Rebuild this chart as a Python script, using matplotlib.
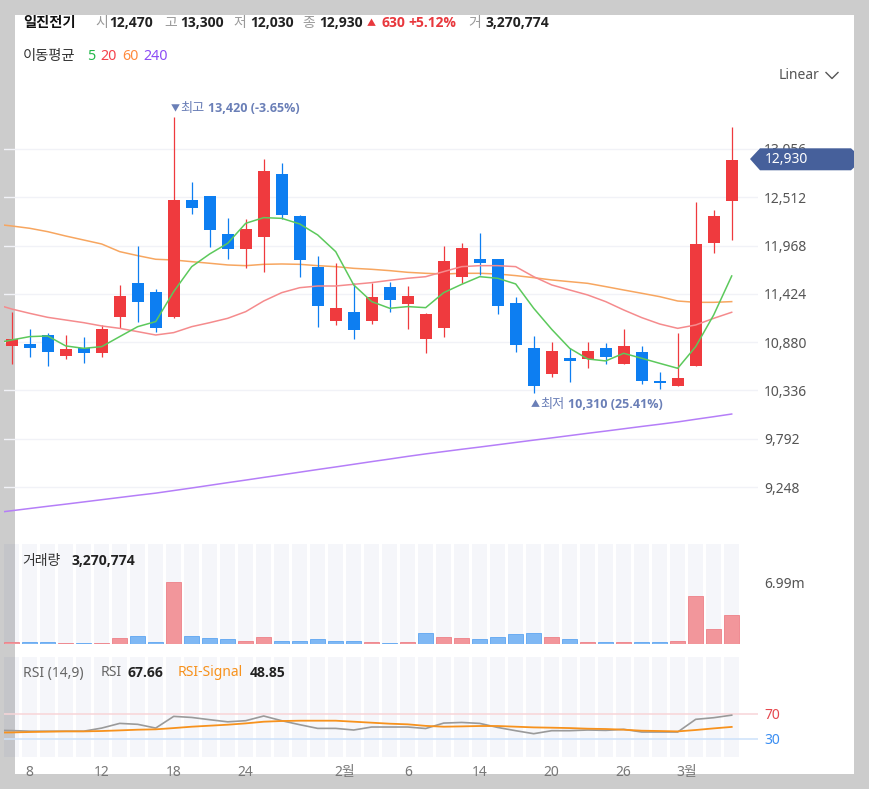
import matplotlib
matplotlib.use('Agg')
import matplotlib.pyplot as plt
from matplotlib import font_manager as fm
from matplotlib.patches import Rectangle, Polygon
from matplotlib.transforms import blended_transform_factory
import numpy as np

plt.rcParams['font.family'] = ['Noto Sans', 'Noto Sans CJK KR', 'DejaVu Sans']

# ---------------- data ----------------
dates = ['1/5', '1/8', '1/9', '1/10', '1/11', '1/12', '1/15', '1/16', '1/17', '1/18',
         '1/19', '1/22', '1/23', '1/24', '1/25', '1/26', '1/29', '1/30', '1/31', '2/1',
         '2/2', '2/5', '2/6', '2/7', '2/8', '2/13', '2/14', '2/15', '2/16', '2/19',
         '2/20', '2/21', '2/22', '2/23', '2/26', '2/27', '2/28', '2/29', '3/4', '3/5', '3/6']

opens = [10841, 10856, 10958, 10729, 10811, 10755, 11168, 11547, 11442, 11168,
         12478, 12531, 12095, 11926, 12069, 12771, 12305, 11724, 11119, 11217,
         11123, 11498, 11307, 10913, 11036, 11618, 11814, 11814, 11318, 10811,
         10518, 10699, 10687, 10811, 10631, 10766, 10443, 10391, 10616, 11994, 12470]
highs = [11220, 11025, 10980, 10961, 10935, 11074, 11524, 11964, 11476, 13420,
         12688, 12531, 12275, 12268, 12940, 12895, 12313, 11851, 11769, 11551,
         11543, 11562, 11513, 11205, 11964, 11994, 12114, 11814, 11393, 10950,
         10879, 10811, 10879, 10868, 11029, 10841, 10548, 10980, 12463, 12369, 13300]
lows = [10631, 10717, 10612, 10691, 10642, 10710, 11044, 11112, 10999, 11149,
        12320, 11956, 11814, 11712, 11675, 12264, 11618, 11055, 11074, 10913,
        11085, 11217, 11025, 10762, 10943, 11543, 11637, 11194, 10774, 10310,
        10485, 10436, 10586, 10635, 10631, 10410, 10353, 10391, 10616, 11881, 12030]
closes = [10913, 10811, 10774, 10800, 10755, 11029, 11404, 11337, 11036, 12482,
          12395, 12144, 11926, 12151, 12812, 12313, 11806, 11292, 11262, 11018,
          11386, 11356, 11401, 11194, 11799, 11937, 11768, 11292, 10849, 10391,
          10785, 10669, 10785, 10717, 10841, 10447, 10417, 10473, 11983, 12300, 12930]

# moving averages, first value is the session before the first candle
ma5 = [10864, 10905, 10943, 10950, 10838, 10811, 10830, 10943, 11055, 11112, 11450,
       11731, 11874, 11994, 12219, 12283, 12275, 12212, 12088, 11900, 11525, 11337,
       11262, 11281, 11269, 11438, 11532, 11618, 11600, 11536, 11262, 11025, 10811,
       10691, 10669, 10755, 10699, 10642, 10586, 10830, 11187, 11626]
ma20 = [11314, 11254, 11205, 11160, 11130, 11100, 11063, 11036, 10999, 10961, 10988,
        11055, 11100, 11149, 11224, 11344, 11438, 11494, 11513, 11513, 11532, 11551,
        11577, 11600, 11618, 11675, 11731, 11742, 11742, 11731, 11618, 11525, 11468,
        11412, 11337, 11243, 11157, 11085, 11036, 11074, 11149, 11217]
ma60 = [12212, 12189, 12163, 12125, 12076, 12031, 11986, 11900, 11855, 11814, 11806,
        11787, 11769, 11750, 11742, 11757, 11761, 11757, 11742, 11731, 11712, 11701,
        11686, 11667, 11656, 11648, 11656, 11656, 11648, 11630, 11607, 11581, 11562,
        11543, 11506, 11468, 11431, 11393, 11344, 11329, 11329, 11337]
ma240 = [8957, 8982, 9007, 9032, 9056, 9081, 9106, 9131, 9156, 9180, 9209,
         9238, 9268, 9298, 9327, 9357, 9386, 9416, 9446, 9475, 9505, 9535,
         9564, 9594, 9622, 9648, 9674, 9699, 9725, 9751, 9777, 9802, 9828,
         9854, 9879, 9905, 9931, 9956, 9982, 10012, 10041, 10071]

volume_m = [0.26, 0.26, 0.26, 0.15, 0.15, 0.15, 0.71, 0.98, 0.26, 6.99,
            0.98, 0.68, 0.56, 0.41, 0.83, 0.41, 0.41, 0.56, 0.41, 0.41,
            0.26, 0.15, 0.26, 1.24, 0.83, 0.68, 0.56, 0.83, 1.13, 1.24,
            0.83, 0.56, 0.26, 0.26, 0.26, 0.26, 0.26, 0.41, 5.45, 1.69, 3.27]
volume_up = [1, 0, 0, 1, 0, 1, 1, 0, 0, 1,
             0, 0, 0, 1, 1, 0, 0, 0, 0, 0,
             1, 0, 1, 0, 1, 1, 0, 0, 0, 0,
             1, 0, 1, 0, 1, 0, 0, 1, 1, 1, 1]

rsi = [43.5, 43, 42, 42, 42, 42, 47, 54.5, 53, 47, 65.7, 64, 60.4, 57, 58.8, 66.3,
       58.8, 52.4, 46.5, 46.5, 43.9, 48.7, 48.7, 48.7, 46.3, 55, 56, 54.5, 48, 42.8,
       38, 42.8, 42.8, 43.9, 43.3, 45, 40.7, 40.7, 40.7, 61, 63.6, 67.66]
rsi_signal = [39.8, 40, 40.7, 41.2, 41.7, 41.7, 42.3, 43.3, 44.4, 45, 47, 49.2, 50.8,
              52.4, 54.5, 57.2, 58.3, 58.8, 58.8, 58.8, 57.2, 55.6, 54, 53, 50.5,
              49.2, 49.7, 50.3, 50.3, 49.2, 48.1, 47.6, 47, 46, 45.5, 44.4, 42.8,
              42.3, 41.7, 43.9, 46.5, 48.85]
rsi_levels = [70, 30]

price_ticks = [9248, 9792, 10336, 10880, 11424, 11968, 12512, 13056]
vol_ticks = [6.99]
xtick_pos = [1, 5, 9, 13, 18.5, 22, 26, 30, 34, 37.5]
xtick_labels = ['8', '12', '18', '24', '2월', '6', '14', '20', '26', '3월']


# ---------------- fonts ----------------
def has_bold(name):
    for f in fm.fontManager.ttflist:
        if f.name == name:
            w = f.weight
            if isinstance(w, str):
                w = {'bold': 700, 'heavy': 800, 'black': 900, 'extra bold': 800,
                     'ultrabold': 800, 'demibold': 600, 'semibold': 600}.get(w.lower(), 400)
            if w >= 700:
                return True
    return False


LAT_B = next((nm for nm in ['Noto Sans', 'Open Sans', 'Roboto', 'Lato', 'Liberation Sans']
              if has_bold(nm)), 'DejaVu Sans')
CJK_B = next((nm for nm in ['Noto Sans CJK KR', 'Noto Sans CJK JP', 'Noto Sans CJK SC',
                            'Noto Sans CJK TC'] if has_bold(nm)), 'Noto Sans CJK KR')
BOLD_FAM = [LAT_B, CJK_B, 'DejaVu Sans']
HANGUL_BOLD_FAM = [CJK_B, 'Noto Sans CJK KR', 'DejaVu Sans']

# ---------------- figure ----------------
W, H, DPI = 869, 789, 100
fig = plt.figure(figsize=(W / DPI, H / DPI), dpi=DPI)
fig.patch.set_facecolor('#cccccc')


def px_axes(l, t, r, b, z):
    a = fig.add_axes([l / W, 1 - b / H, (r - l) / W, (b - t) / H], zorder=z)
    a.patch.set_alpha(0)
    return a


bg = px_axes(0, 0, W, H, -10)
bg.set_xlim(0, W)
bg.set_ylim(H, 0)
bg.axis('off')
bg.add_patch(Rectangle((15, 15), 839, 759, facecolor='white', edgecolor='none'))

n = len(closes)
x = np.arange(n)
xm = np.arange(-1, n)
XL = ((4 - 11.7) / 18, (758 - 11.7) / 18)

RED = '#ef3a3e'
BLUE = '#0d7ef1'

# ---- main price panel ----
ax = px_axes(4, 90, 758, 535, 1)
ax.set_xlim(*XL)
top_price = 13056 + (149 - 90) * 11.263
bot_price = 13056 - (535 - 149) * 11.263
ax.set_ylim(bot_price, top_price)
for s in ax.spines.values():
    s.set_visible(False)
ax.set_xticks([])
ax.set_yticks(price_ticks, [f'{v:,}' for v in price_ticks])
ax.yaxis.tick_right()
ax.tick_params(axis='y', length=0, pad=4.3, labelsize=10, labelcolor='#555555')
ax.yaxis.grid(True, color='#f1f2f7', lw=1.0)
ax.set_axisbelow(True)

o = np.array(opens)
c = np.array(closes)
cols = [RED if cc >= oo else BLUE for oo, cc in zip(o, c)]
ax.vlines(x, lows, highs, colors=cols, lw=0.9, zorder=3)
ax.bar(x, np.maximum(np.abs(c - o), 25), bottom=np.minimum(o, c), width=0.65,
       color=cols, edgecolor='none', zorder=4)

ax.plot(xm, ma240, color='#b57ef8', lw=1.1, zorder=2)
ax.plot(xm, ma60, color='#f7a660', lw=1.1, zorder=2)
ax.plot(xm, ma20, color='#f58b8d', lw=1.1, zorder=5)
ax.plot(xm, ma5, color='#5cc95c', lw=1.1, zorder=6)

# ---- volume panel ----
av = px_axes(4, 544, 758, 644.3, 1)
av.set_xlim(*XL)
av.set_ylim(0, 6.99 * 100.3 / 62)
for s in av.spines.values():
    s.set_visible(False)
av.set_xticks([])
for i in x:
    av.axvspan(i - 0.42, i + 0.42, color='#1a3399', alpha=0.045, lw=0, zorder=0)
vcols = ['#f2969b' if u else '#7fb8f4' for u in volume_up]
vedge = ['#ee8088' if u else '#5ea6f2' for u in volume_up]
av.bar(x, volume_m, width=0.86, color=vcols, edgecolor=vedge, lw=0.6, zorder=2)
av.set_yticks(vol_ticks, ['6.99m'])
av.yaxis.tick_right()
av.tick_params(axis='y', length=0, pad=4.3, labelsize=10, labelcolor='#555555')

# ---- RSI panel ----
ar = px_axes(4, 656.7, 758, 756.7, 1)
ar.set_xlim(*XL)
ar.set_ylim(30 - (756.7 - 738.7) / 0.625, 70 + (713.7 - 656.7) / 0.625)
for s in ar.spines.values():
    s.set_visible(False)
ar.set_xticks([])
for i in x:
    ar.axvspan(i - 0.42, i + 0.42, color='#1a3399', alpha=0.045, lw=0, zorder=0)
ar.axhline(rsi_levels[0], color='#f8d5d8', lw=1.1, zorder=1)
ar.axhline(rsi_levels[1], color='#cde2fb', lw=1.1, zorder=1)
ar.plot(xm, rsi, color='#9a9a9a', lw=1.2, zorder=3)
ar.plot(xm, rsi_signal, color='#f7921d', lw=1.3, zorder=3)
ar.set_yticks(rsi_levels, [str(v) for v in rsi_levels])
ar.yaxis.tick_right()
ar.tick_params(axis='y', length=0, pad=4.3, labelsize=10)
ylabs = ar.get_yticklabels()
ylabs[0].set_color('#e6474d')
ylabs[1].set_color('#3b8ef2')

# ---- overlay (texts, tag) ----
ov = px_axes(0, 0, W, H, 20)
ov.set_xlim(0, W)
ov.set_ylim(H, 0)
ov.axis('off')


def t(xp, yp, s, size=10, color='#222222', bold=False, fam=None, ha='left', va='center', **kw):
    if fam is None:
        fam = BOLD_FAM if bold else ['Noto Sans', 'Noto Sans CJK KR', 'DejaVu Sans']
    ov.text(xp, yp, s, fontsize=size, color=color, family=fam,
            fontweight='bold' if bold else 'normal', ha=ha, va=va, **kw)


GRAY = '#999999'
HY = 23
t(23, HY, '일진전기', 10.3, '#111111', True, fam=HANGUL_BOLD_FAM)
t(95, HY, '시', 10, GRAY)
t(109.5, HY, '12,470', 10, '#222222', True)
t(164.5, HY, '고', 10, GRAY)
t(180, HY, '13,300', 10, '#222222', True)
t(233, HY, '저', 10, GRAY)
t(250, HY, '12,030', 10, '#222222', True)
t(302, HY, '종', 10, GRAY)
t(319, HY, '12,930', 10, '#222222', True)
t(367, HY + 0.5, '▲', 6.5, '#e8383d')
t(381, HY, '630', 10, '#e8383d', True)
t(408.5, HY, '+5.12%', 10, '#e8383d', True)
t(468, HY, '거', 10, GRAY)
t(485, HY, '3,270,774', 10, '#222222', True)

LY = 56
t(23, LY, '이동평균', 10.3, '#333333')
t(87, LY, '5', 10.3, '#22b84a')
t(100, LY, '20', 10.3, '#f5414b')
t(122, LY, '60', 10.3, '#ff8a3d')
t(143, LY, '240', 10.3, '#8c4cf5')

t(779, 75, 'Linear', 10, '#555555')
ov.plot([826, 832, 838], [72.5, 78.5, 72.5], color='#555555', lw=1.0)

# max / min markers
AC = '#6a7fb7'
t(170.5, 108.5, '▼', 6.5, AC)
t(180, 108, '최고', 9.5, AC)
t(208, 108, '13,420 (-3.65%)', 9, AC, True)
t(530.5, 404.5, '▲', 6.5, AC)
t(540, 404, '최저', 9.5, AC)
t(568, 404, '10,310 (25.41%)', 9, AC, True)

# current price tag (drawn over the top axis label, as in the source)
ov.add_patch(Polygon([(750, 159), (760, 148.3), (851, 148.3), (854, 151), (854, 167.5),
                      (851, 170.3), (760, 170.3)], closed=True,
                     facecolor='#46609b', edgecolor='none', zorder=5))
t(765, 159.5, '12,930', 10, 'white', zorder=6)

# panel labels
t(22.7, 561, '거래량', 10, '#333333')
t(71, 561, '3,270,774', 10, '#222222', True)
t(22.7, 673, 'RSI (14,9)', 10, '#666666')
t(100.7, 673, 'RSI', 10, '#666666')
t(127.7, 673, '67.66', 10, '#222222', True)
t(177.3, 673, 'RSI-Signal', 10, '#f7921d')
t(249.3, 673, '48.85', 10, '#222222', True)

# date labels under the RSI panel
trans = blended_transform_factory(ar.transData, ov.transData)
for p, lab in zip(xtick_pos, xtick_labels):
    ov.text(p, 776, lab, transform=trans, ha='center', va='baseline',
            fontsize=10, color='#777777')

fig.savefig('out.png', dpi=DPI, facecolor=fig.get_facecolor())
